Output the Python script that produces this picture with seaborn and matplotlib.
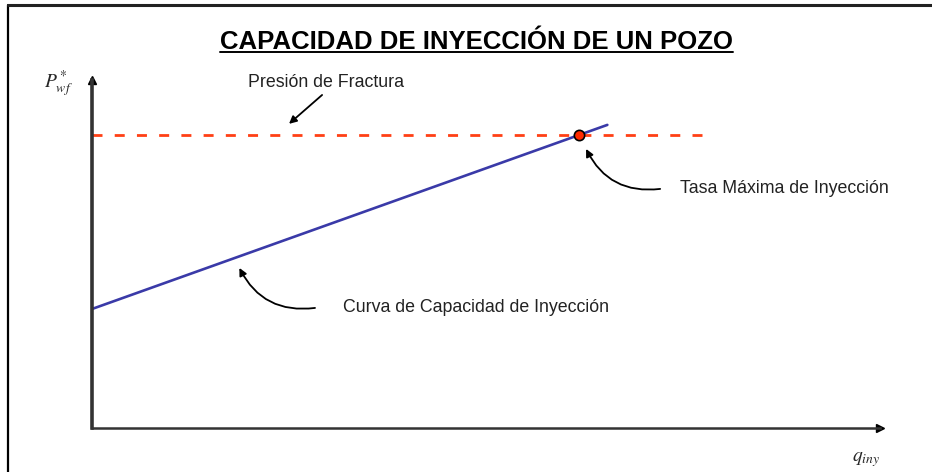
import matplotlib
matplotlib.use("Agg")
import matplotlib.pyplot as plt
from matplotlib.lines import Line2D
import seaborn as sns
import pandas as pd

# Datos del esquema (unidades arbitrarias)
q_iny = [0.0, 6.54]
p_wf = [3.42, 8.71]
p_fractura = 8.42
q_fractura = [0.0, 7.87]
q_max = 6.18

TITULO = "CAPACIDAD DE INYECCIÓN DE UN POZO"
TXT_FRACTURA = "Presión de Fractura"
TXT_TASA = "Tasa Máxima de Inyección"
TXT_CURVA = "Curva de Capacidad de Inyección"

sns.set_theme(style="white")
plt.rcParams["font.family"] = ["Liberation Sans", "DejaVu Sans"]
plt.rcParams["mathtext.fontset"] = "stix"

fig = plt.figure(figsize=(9.32, 4.72), dpi=100)
ax = fig.add_axes([92 / 932, 44 / 472, 788 / 932, 348 / 472])
ax.set_xlim(0, 10)
ax.set_ylim(0, 10)

curva = pd.DataFrame({"q": q_iny, "p": p_wf})
frac = pd.DataFrame({"q": q_fractura, "p": [p_fractura] * 2})

sns.lineplot(data=frac, x="q", y="p", ax=ax, color="#ff4015", lw=2.0,
             linestyle=(0, (3.6, 4.4)), clip_on=False)
sns.lineplot(data=curva, x="q", y="p", ax=ax, color="#3a3aa8", lw=1.9)
sns.scatterplot(x=[q_max], y=[p_fractura], ax=ax, color="#ff2a00", s=55,
                edgecolor="black", linewidth=1.2, zorder=5)

# ejes tipo esquema con flechas
for s in ["top", "right"]:
    ax.spines[s].set_visible(False)
ax.spines["left"].set_linewidth(2.6)
ax.spines["bottom"].set_linewidth(1.8)
ax.spines["left"].set_color("#333333")
ax.spines["bottom"].set_color("#333333")
ax.plot(0, 1, "^", color="black", ms=6, transform=ax.transAxes, clip_on=False)
ax.plot(1, 0, ">", color="black", ms=6, transform=ax.transAxes, clip_on=False)
ax.set_xticks([])
ax.set_yticks([])
ax.set_xlabel(None)
ax.set_ylabel(None)

txt = dict(fontsize=12.8, color="#222222", va="center", ha="left")
ax.text(1.98, 9.94, TXT_FRACTURA, **txt)
ax.text(7.46, 6.87, TXT_TASA, **txt)
ax.text(3.19, 3.45, TXT_CURVA, **txt)

flecha = dict(arrowstyle="-|>", color="black", lw=1.3, mutation_scale=11,
              shrinkA=0, shrinkB=0)
ax.annotate("", xy=(2.5, 8.74), xytext=(2.92, 9.57),
            arrowprops=flecha)
ax.annotate("", xy=(6.27, 8.02), xytext=(7.21, 6.87),
            arrowprops=dict(flecha, connectionstyle="arc3,rad=-0.35"))
ax.annotate("", xy=(1.87, 4.60), xytext=(2.83, 3.45),
            arrowprops=dict(flecha, connectionstyle="arc3,rad=-0.35"))

fig.text(58 / 932, 1 - 84 / 472, r"$P^*_{wf}$", fontsize=14, ha="center", va="center")
fig.text(866 / 932, 1 - 460 / 472, r"$q_{iny}$", fontsize=14, ha="center", va="center")

titulo = fig.text(476 / 932, 1 - 49 / 472, TITULO, fontsize=18.5, fontweight="bold",
                  ha="center", va="baseline", color="black")

# marco de la lámina
fig.add_artist(Line2D([8 / 932, 8 / 932], [0, 1 - 5 / 472], color="black", lw=1.6,
                      transform=fig.transFigure))
fig.add_artist(Line2D([8 / 932, 1], [1 - 5 / 472, 1 - 5 / 472], color="#222222", lw=2.2,
                      transform=fig.transFigure))

# subrayado del título
fig.canvas.draw()
bb = titulo.get_window_extent().transformed(fig.transFigure.inverted())
y_sub = 1 - 52 / 472
fig.add_artist(Line2D([bb.x0, bb.x1], [y_sub, y_sub], color="black",
                      lw=1.4, transform=fig.transFigure))

plt.savefig("out.png", dpi=100)
